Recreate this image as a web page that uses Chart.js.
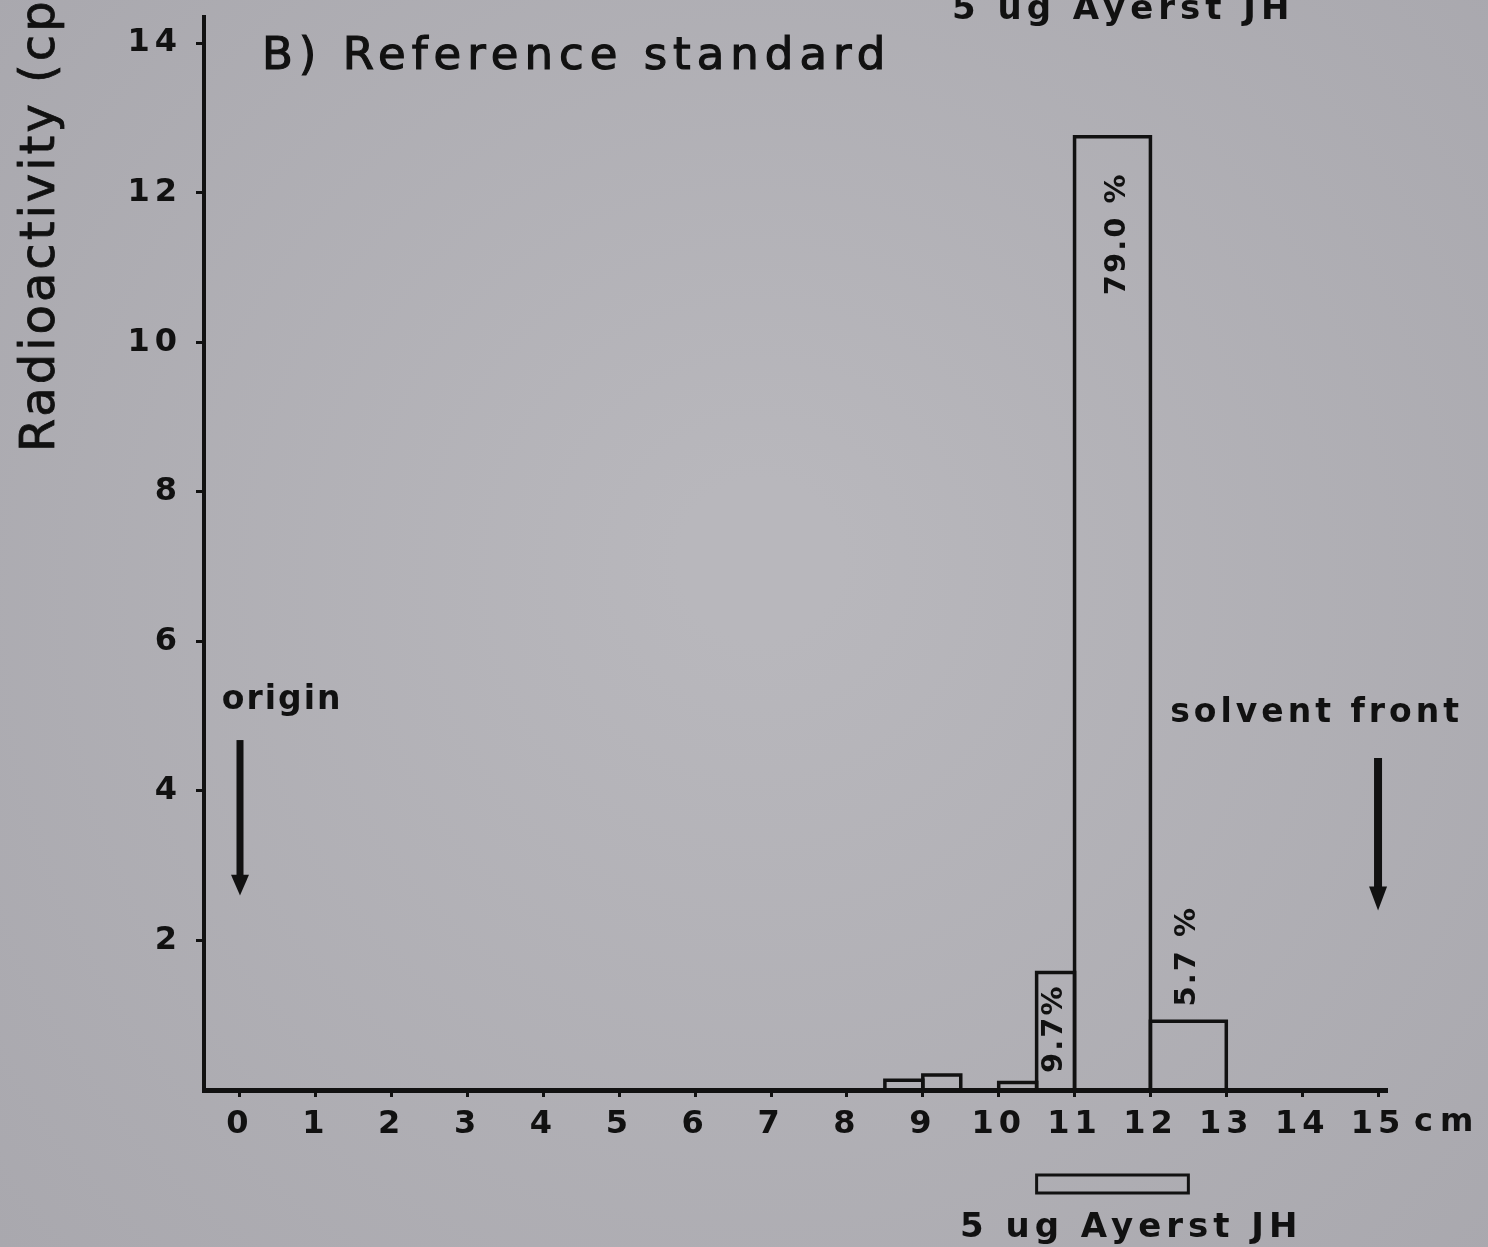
<!DOCTYPE html>
<html lang="en">
<head>
<meta charset="UTF-8">
<title>B) Reference standard</title>
<script src="https://cdn.jsdelivr.net/npm/chart.js@4.4.1/dist/chart.umd.min.js"></script>
<style>
  html, body { margin: 0; padding: 0; background: #b3b2b7; }
  canvas { display: block; }
</style>
</head>
<body>
<canvas id="chartTlc" width="1488" height="1247"></canvas>
<script>
  // data (cm along the plate, radioactivity per fraction)
  var barStart = [8.5, 9.0, 10.0, 10.5, 11.0, 12.0];
  var barEnd = [9.0, 9.5, 10.5, 11.0, 12.0, 13.0];
  var barHeight = [0.13, 0.2, 0.1, 1.57, 12.75, 0.92];
  var xTicks = [0, 1, 2, 3, 4, 5, 6, 7, 8, 9, 10, 11, 12, 13, 14, 15];
  var yTicks = [2, 4, 6, 8, 10, 12, 14];
  var pctText = ['79.0 %', '9.7%', '5.7 %'];

  // annotation placement (data units)
  var pctAt = [[11.57, 11.45], [10.73, 0.82], [12.49, 1.79]];
  var standardFrom = 10.5, standardTo = 12.5;

  var ink = '#111';
  var face = 'DejaVu Sans';

  function putText(ctx, str, x, y, opt) {
    ctx.save();
    ctx.font = (opt.weight || 'bold') + ' ' + opt.size + 'px "' + face + '"';
    ctx.letterSpacing = (opt.spacing || 0) + 'px';
    ctx.fillStyle = ink;
    ctx.strokeStyle = ink;
    ctx.textAlign = opt.align || 'left';
    ctx.textBaseline = opt.baseline || 'alphabetic';
    ctx.translate(x, y);
    if (opt.rotate) ctx.rotate(opt.rotate);
    ctx.fillText(str, 0, 0);
    if (opt.thicken) {
      ctx.lineWidth = opt.thicken;
      ctx.strokeText(str, 0, 0);
    }
    ctx.restore();
  }

  function arrowDown(ctx, x, yTop, yHeadStart, yTip, shaft, head) {
    ctx.save();
    ctx.fillStyle = ink;
    ctx.fillRect(x - shaft / 2, yTop, shaft, yHeadStart - yTop + 2);
    ctx.beginPath();
    ctx.moveTo(x - head / 2, yHeadStart);
    ctx.lineTo(x + head / 2, yHeadStart);
    ctx.lineTo(x, yTip);
    ctx.closePath();
    ctx.fill();
    ctx.restore();
  }

  var paperPlugin = {
    id: 'paper',
    beforeDraw: function (chart) {
      var ctx = chart.ctx;
      var g = ctx.createRadialGradient(760, 560, 80, 760, 620, 1050);
      g.addColorStop(0, '#b8b7bc');
      g.addColorStop(1, '#a8a7ad');
      ctx.save();
      ctx.fillStyle = g;
      ctx.fillRect(0, 0, chart.width, chart.height);
      ctx.restore();
      ctx.letterSpacing = '5px';
    },
    afterDraw: function (chart) {
      var ctx = chart.ctx;
      var xs = chart.scales.x, ys = chart.scales.y;

      // axis title, runs off the top edge as in the scan
      putText(ctx, 'Radioactivity (cpm)', 54, 452, {size: 48, weight: 'normal', spacing: 3, thicken: 0.8, rotate: -Math.PI / 2});

      // panel title
      putText(ctx, 'B) Reference standard', xs.getPixelForValue(0.29), ys.getPixelForValue(13.66), {size: 45, weight: 'normal', spacing: 6, thicken: 1.2});

      // label of the panel above, cut by the edge
      putText(ctx, '5 ug Ayerst JH', 952, 19, {size: 34, spacing: 5});

      // origin / solvent front
      putText(ctx, 'origin', xs.getPixelForValue(-0.24), ys.getPixelForValue(5.1), {size: 33, spacing: 2});
      arrowDown(ctx, xs.getPixelForValue(0), ys.getPixelForValue(4.68), ys.getPixelForValue(2.88), ys.getPixelForValue(2.6), 7, 18);
      putText(ctx, 'solvent front', xs.getPixelForValue(12.26), ys.getPixelForValue(4.92), {size: 33, spacing: 4});
      arrowDown(ctx, xs.getPixelForValue(15), ys.getPixelForValue(4.44), ys.getPixelForValue(2.72), ys.getPixelForValue(2.4), 8, 18);

      // percentages
      pctText.forEach(function (t, i) {
        putText(ctx, t, xs.getPixelForValue(pctAt[i][0]), ys.getPixelForValue(pctAt[i][1]),
          {size: 29, spacing: 2, align: 'center', baseline: 'middle', rotate: -Math.PI / 2});
      });

      // unit after the last tick
      putText(ctx, 'cm', xs.getPixelForValue(15) + 36, 1123, {size: 32, spacing: 7, baseline: 'middle'});

      // standard marker under the axis
      var a = xs.getPixelForValue(standardFrom), b = xs.getPixelForValue(standardTo);
      ctx.save();
      ctx.strokeStyle = ink;
      ctx.lineWidth = 3;
      ctx.strokeRect(a, 1175, b - a, 18);
      ctx.restore();
      putText(ctx, '5 ug Ayerst JH', xs.getPixelForValue(9.49), 1237, {size: 34, spacing: 5});
    }
  };

  var bars = barStart.map(function (x0, i) {
    return {
      data: [
        {x: x0, y: 0},
        {x: x0, y: barHeight[i]},
        {x: barEnd[i], y: barHeight[i]},
        {x: barEnd[i], y: 0}
      ],
      showLine: true,
      borderColor: ink,
      borderWidth: 3.5,
      pointRadius: 0,
      tension: 0,
      fill: false,
      clip: false
    };
  });

  var tickFont = {family: face, size: 32, weight: 'bold'};

  new Chart(document.getElementById('chartTlc').getContext('2d'), {
    type: 'scatter',
    data: { datasets: bars },
    options: {
      responsive: false,
      animation: false,
      layout: { padding: { left: 0, top: 17, right: 102, bottom: 0 } },
      plugins: { legend: { display: false }, tooltip: { enabled: false } },
      scales: {
        x: {
          type: 'linear',
          min: -0.4745,
          max: 15.105,
          afterBuildTicks: function (scale) {
            scale.ticks = xTicks.map(function (v) { return {value: v}; });
          },
          afterFit: function (scale) {
            scale.height = 157;
            scale.paddingLeft = 0;
            scale.paddingRight = 0;
          },
          ticks: { color: ink, font: tickFont, padding: 8, maxRotation: 0, autoSkip: false },
          grid: { drawOnChartArea: false, drawTicks: true, tickLength: 7, lineWidth: 3, color: ink },
          border: { display: true, width: 5, color: ink }
        },
        y: {
          type: 'linear',
          min: 0,
          max: 14.35,
          afterBuildTicks: function (scale) {
            scale.ticks = yTicks.map(function (v) { return {value: v}; });
          },
          afterFit: function (scale) {
            scale.width = 204;
            scale.paddingTop = 0;
            scale.paddingBottom = 0;
          },
          ticks: { color: ink, font: tickFont, padding: 14 },
          grid: { drawOnChartArea: false, drawTicks: true, tickLength: 8, lineWidth: 3, color: ink },
          border: { display: true, width: 4, color: ink }
        }
      }
    },
    plugins: [paperPlugin]
  });
</script>
</body>
</html>
